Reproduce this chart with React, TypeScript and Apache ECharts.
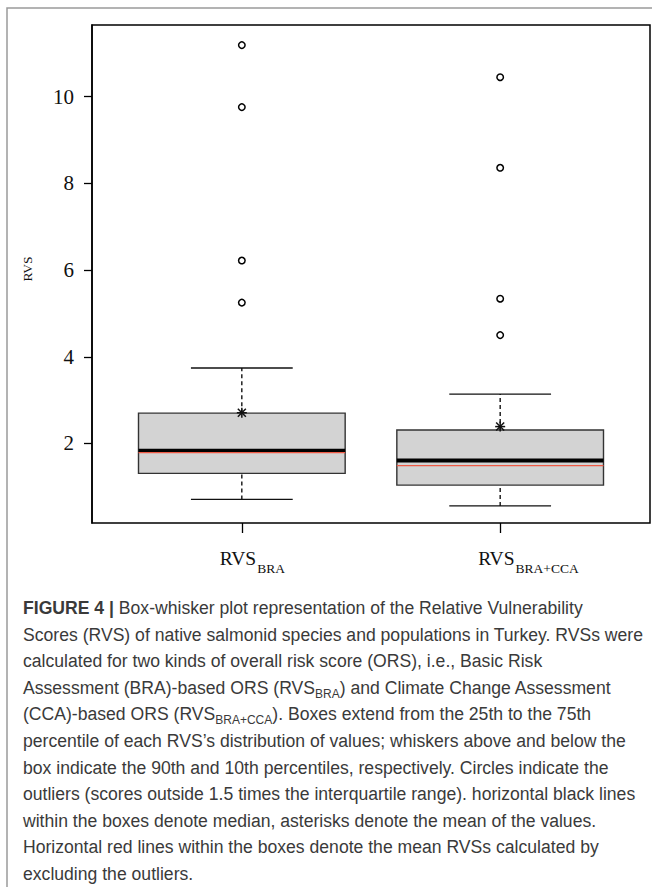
import React, { useEffect, useRef } from "react";
import * as echarts from "echarts";

// ---- data ----
const categoryPositions = [1, 2];
const categoryMain = ["RVS", "RVS"];
const categorySubs = ["BRA", "BRA+CCA"];
const lowerWhiskers = [0.71, 0.56];
const q1s = [1.31, 1.04];
const medians = [1.83, 1.61];
const q3s = [2.7, 2.31];
const upperWhiskers = [3.74, 3.14];
const meansAll = [2.71, 2.39];
const meansExclOutliers = [1.79, 1.49];
const outliersBRA = [11.19, 9.76, 6.22, 5.25];
const outliersBRACCA = [10.45, 8.36, 5.34, 4.5];
const yTickValues = [2, 4, 6, 8, 10];
const yAxisName = "RVS";
const yMin = 0.166;
const yMax = 11.654;
const xMin = 0.42;
const xMax = 2.58;

const captionLines = [
  "**FIGURE 4 |** Box-whisker plot representation of the Relative Vulnerability",
  "Scores (RVS) of native salmonid species and populations in Turkey. RVSs were",
  "calculated for two kinds of overall risk score (ORS), i.e., Basic Risk",
  "Assessment (BRA)-based ORS (RVS_{BRA}) and Climate Change Assessment",
  "(CCA)-based ORS (RVS_{BRA+CCA}). Boxes extend from the 25th to the 75th",
  "percentile of each RVS\u2019s distribution of values; whiskers above and below the",
  "box indicate the 90th and 10th percentiles, respectively. Circles indicate the",
  "outliers (scores outside 1.5 times the interquartile range). horizontal black lines",
  "within the boxes denote median, asterisks denote the mean of the values.",
  "Horizontal red lines within the boxes denote the mean RVSs calculated by",
  "excluding the outliers.",
];

const SERIF = '"Liberation Serif", "Times New Roman", serif';
const SANS = '"Liberation Sans", Arial, sans-serif';

function toRich(line: string): string {
  const parts = line.split(/(\*\*[^*]+\*\*|_\{[^}]+\})/);
  return parts
    .filter((p) => p.length > 0)
    .map((p) => {
      if (p.startsWith("**")) return `{b|${p.slice(2, -2)}}`;
      if (p.startsWith("_{")) return `{s|${p.slice(2, -1)}}`;
      return `{n|${p}}`;
    })
    .join("");
}

export default function App() {
  const ref = useRef<HTMLDivElement>(null);

  useEffect(() => {
    document.body.style.margin = "0";
    if (!ref.current) return;
    const chart = echarts.init(ref.current, undefined, { renderer: "svg" });

    const captionColor = "#3a3a3a";
    const captionRich = {
      n: { fontSize: 17.6, fontFamily: SANS, fill: captionColor, lineHeight: 24, verticalAlign: "middle" },
      b: { fontSize: 17.6, fontFamily: SANS, fontWeight: "bold", fill: captionColor, lineHeight: 24, verticalAlign: "middle" },
      s: { fontSize: 12, fontFamily: SANS, fill: captionColor, lineHeight: 14, verticalAlign: "bottom" },
    };

    const captionGraphics = captionLines.map((line, i) => ({
      type: "text",
      x: 23,
      y: 608 + i * 26.6,
      style: {
        text: toRich(line),
        rich: captionRich,
        align: "left",
        verticalAlign: "middle",
      },
    }));

    const boxData = categoryPositions.map((x, i) => [
      x,
      lowerWhiskers[i],
      q1s[i],
      medians[i],
      q3s[i],
      upperWhiskers[i],
      meansExclOutliers[i],
    ]);
    const meanData = categoryPositions.map((x, i) => [x, meansAll[i]]);
    const outlierData = [
      ...outliersBRA.map((v) => [categoryPositions[0], v]),
      ...outliersBRACCA.map((v) => [categoryPositions[1], v]),
    ];
    const labelData = categoryPositions.map((x, i) => [x, yMin, i]);

    const option: any = {
      animation: false,
      backgroundColor: "#fff",
      graphic: [
        {
          type: "rect",
          z: -10,
          shape: { x: 7, y: 8, width: 900, height: 1200 },
          style: { fill: "none", stroke: "#9a9a9a", lineWidth: 1.5 },
        },
        ...captionGraphics,
      ],
      grid: {
        left: 92,
        top: 25,
        width: 558,
        height: 498,
        show: true,
        borderColor: "#000",
        borderWidth: 1.5,
        backgroundColor: "transparent",
      },
      xAxis: {
        type: "value",
        min: xMin,
        max: xMax,
        axisLine: { show: false },
        splitLine: { show: false },
        axisTick: {
          show: true,
          customValues: categoryPositions,
          length: 10,
          lineStyle: { color: "#000", width: 1.3 },
        },
        axisLabel: { show: true, customValues: categoryPositions, formatter: () => "" },
      },
      yAxis: {
        type: "value",
        min: yMin,
        max: yMax,
        axisLine: { show: true, lineStyle: { color: "#000", width: 1.5 } },
        splitLine: { show: false },
        axisTick: {
          show: true,
          customValues: yTickValues,
          length: 8,
          lineStyle: { color: "#000", width: 1.3 },
        },
        axisLabel: {
          customValues: yTickValues,
          fontSize: 21,
          fontFamily: SERIF,
          color: "#111",
          margin: 18,
        },
        name: yAxisName,
        nameLocation: "middle",
        nameRotate: 90,
        nameGap: 58,
        nameTextStyle: { fontSize: 13.5, fontFamily: SERIF, color: "#111", padding: [0, 0, 0, 10] },
      },
      series: [
        {
          type: "custom",
          name: "box",
          clip: false,
          data: boxData,
          encode: { x: 0, y: [1, 2, 3, 4, 5] },
          renderItem: (params: any, api: any) => {
            const x = api.value(0);
            const lo = api.value(1);
            const q1 = api.value(2);
            const med = api.value(3);
            const q3 = api.value(4);
            const hi = api.value(5);
            const red = api.value(6);
            const boxHalf = 0.4;
            const capHalf = 0.197;
            const P = (xx: number, yy: number) => api.coord([xx, yy]);
            const seg = (a: number[], b: number[], style: any) => ({
              type: "line",
              shape: { x1: a[0], y1: a[1], x2: b[0], y2: b[1] },
              style,
            });
            const dash = { stroke: "#000", lineWidth: 1.3, lineDash: [4, 3] };
            const solid = { stroke: "#111", lineWidth: 1.4 };
            const tl = P(x - boxHalf, q3);
            const br = P(x + boxHalf, q1);
            return {
              type: "group",
              children: [
                seg(P(x, q3), P(x, hi), dash),
                seg(P(x, lo), P(x, q1), dash),
                seg(P(x - capHalf, hi), P(x + capHalf, hi), solid),
                seg(P(x - capHalf, lo), P(x + capHalf, lo), solid),
                {
                  type: "rect",
                  shape: { x: tl[0], y: tl[1], width: br[0] - tl[0], height: br[1] - tl[1] },
                  style: { fill: "#d3d3d3", stroke: "#333", lineWidth: 1.4 },
                },
                seg(P(x - boxHalf, med), P(x + boxHalf, med), { stroke: "#000", lineWidth: 4 }),
                seg(P(x - boxHalf, red), P(x + boxHalf, red), { stroke: "#ee5a45", lineWidth: 1.4 }),
              ],
            };
          },
          z: 2,
        },
        {
          type: "custom",
          name: "mean",
          clip: false,
          data: meanData,
          encode: { x: 0, y: 1 },
          renderItem: (params: any, api: any) => {
            const c = api.coord([api.value(0), api.value(1)]);
            const r = 5;
            const d = 4;
            const st = { stroke: "#111", lineWidth: 1.5 };
            const l = (x1: number, y1: number, x2: number, y2: number) => ({
              type: "line",
              shape: { x1, y1, x2, y2 },
              style: st,
            });
            return {
              type: "group",
              children: [
                l(c[0] - r, c[1], c[0] + r, c[1]),
                l(c[0], c[1] - r, c[0], c[1] + r),
                l(c[0] - d, c[1] - d, c[0] + d, c[1] + d),
                l(c[0] - d, c[1] + d, c[0] + d, c[1] - d),
              ],
            };
          },
          z: 4,
        },
        {
          type: "scatter",
          name: "outliers",
          data: outlierData,
          symbol: "circle",
          symbolSize: 6.5,
          itemStyle: { color: "#fff", borderColor: "#000", borderWidth: 1.5, opacity: 1 },
          z: 5,
        },
        {
          type: "custom",
          name: "xlabels",
          clip: false,
          silent: true,
          data: labelData,
          encode: { x: 0, y: 1 },
          renderItem: (params: any, api: any) => {
            const i = api.value(2);
            const base = api.coord([api.value(0), api.value(1)]);
            return {
              type: "text",
              x: base[0] - 22,
              y: base[1] + 35,
              style: {
                text: `{m|${categoryMain[i]}}{s|${categorySubs[i]}}`,
                rich: {
                  m: { fontSize: 19.5, fontFamily: SERIF, fill: "#111", lineHeight: 34, verticalAlign: "middle" },
                  s: { fontSize: 13.5, fontFamily: SERIF, fill: "#111", lineHeight: 13, verticalAlign: "bottom", padding: [0, 0, 0, 1] },
                },
                align: "left",
                verticalAlign: "middle",
              },
            };
          },
          z: 6,
        },
      ],
    };

    chart.setOption(option);
    return () => chart.dispose();
  }, []);

  return <div ref={ref} style={{ width: 652, height: 887 }} />;
}
